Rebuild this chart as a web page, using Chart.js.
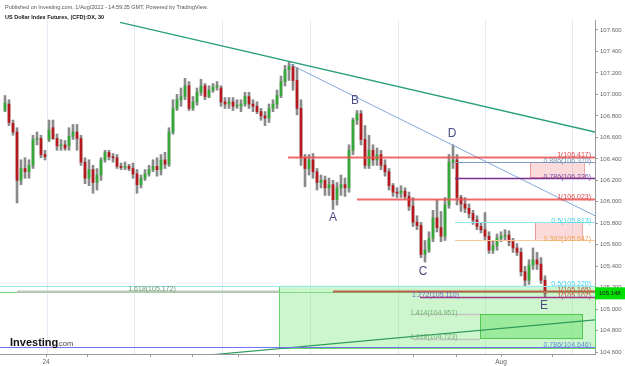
<!DOCTYPE html>
<html>
<head>
<meta charset="utf-8">
<script src="https://cdn.jsdelivr.net/npm/chart.js@4.4.1/dist/chart.umd.min.js"></script>
<style>
  html, body { margin: 0; padding: 0; background: #fff; overflow: hidden; }
  #wrap { position: relative; width: 625px; height: 366px; }
</style>
</head>
<body>
<div id="wrap"><canvas id="dxChart"></canvas></div>
<script>
// 30 min candles, US Dollar Index Futures
const opens = [
  106.85, 106.91, 106.73, 106.65, 106.20, 106.31, 106.28, 106.34, 106.58, 106.59,
  106.44, 106.58, 106.69, 106.59, 106.52, 106.53, 106.52, 106.61, 106.65, 106.59,
  106.37, 106.22, 106.30, 106.18, 106.25, 106.39, 106.46, 106.42, 106.41, 106.33,
  106.32, 106.33, 106.31, 106.26, 106.16, 106.22, 106.26, 106.30, 106.33, 106.30,
  106.39, 106.35, 106.65, 106.87, 106.95, 106.98, 107.08, 106.87, 106.93, 107.02,
  107.08, 106.98, 107.04, 107.07, 107.06, 106.93, 106.91, 106.93, 106.89, 106.89,
  106.91, 106.98, 106.91, 106.89, 106.84, 106.80, 106.78, 106.87, 106.91, 106.99,
  107.12, 107.23, 107.26, 107.13, 106.87, 106.41, 106.31, 106.39, 106.28, 106.18,
  106.20, 106.13, 106.16, 106.02, 106.13, 106.16, 106.13, 106.48, 106.76, 106.82,
  106.58, 106.34, 106.48, 106.39, 106.44, 106.34, 106.28, 106.15, 106.09, 106.08,
  106.10, 106.05, 105.96, 105.81, 105.78, 105.51, 105.55, 105.66, 105.85, 105.76,
  105.68, 105.97, 106.37, 106.39, 106.04, 105.98, 105.94, 105.89, 105.83, 105.77,
  105.74, 105.68, 105.55, 105.59, 105.66, 105.68, 105.69, 105.63, 105.57, 105.53,
  105.35, 105.27, 105.41, 105.46, 105.42, 105.27
];
const highs = [
  106.99, 106.95, 106.76, 106.69, 106.39, 106.41, 106.39, 106.62, 106.65, 106.62,
  106.48, 106.76, 106.76, 106.63, 106.58, 106.57, 106.69, 106.72, 106.72, 106.62,
  106.41, 106.39, 106.34, 106.31, 106.41, 106.48, 106.48, 106.45, 106.44, 106.36,
  106.37, 106.35, 106.36, 106.30, 106.25, 106.30, 106.34, 106.39, 106.41, 106.44,
  106.46, 106.69, 106.95, 107.00, 107.06, 107.15, 107.12, 106.98, 107.06, 107.14,
  107.10, 107.08, 107.10, 107.12, 107.08, 106.97, 106.97, 106.97, 106.95, 106.95,
  107.02, 107.02, 106.95, 106.93, 106.87, 106.84, 106.91, 106.95, 107.04, 107.17,
  107.27, 107.30, 107.28, 107.25, 106.95, 106.44, 106.44, 106.45, 106.31, 106.25,
  106.24, 106.22, 106.20, 106.18, 106.25, 106.22, 106.53, 106.78, 106.85, 106.85,
  106.71, 106.62, 106.53, 106.50, 106.48, 106.39, 106.31, 106.17, 106.13, 106.15,
  106.13, 106.09, 106.04, 105.87, 105.81, 105.64, 105.72, 105.92, 106.02, 105.91,
  106.04, 106.44, 106.53, 106.44, 106.06, 106.04, 105.98, 105.92, 105.87, 105.81,
  105.90, 105.72, 105.64, 105.70, 105.72, 105.74, 105.73, 105.66, 105.61, 105.57,
  105.40, 105.46, 105.57, 105.53, 105.48, 105.31
];
const lows = [
  106.84, 106.71, 106.62, 105.99, 106.16, 106.22, 106.22, 106.31, 106.53, 106.41,
  106.39, 106.56, 106.58, 106.48, 106.48, 106.48, 106.48, 106.58, 106.48, 106.34,
  106.17, 106.15, 106.08, 106.11, 106.20, 106.37, 106.39, 106.37, 106.31, 106.30,
  106.30, 106.29, 106.22, 106.08, 106.13, 106.20, 106.24, 106.28, 106.24, 106.25,
  106.31, 106.33, 106.63, 106.85, 106.89, 106.95, 106.85, 106.85, 106.90, 106.99,
  106.95, 106.97, 107.02, 107.04, 106.89, 106.87, 106.87, 106.85, 106.87, 106.84,
  106.89, 106.87, 106.84, 106.82, 106.76, 106.71, 106.74, 106.84, 106.87, 106.97,
  107.08, 107.13, 107.04, 106.81, 106.34, 106.14, 106.25, 106.22, 106.11, 106.13,
  106.06, 106.06, 105.93, 105.97, 106.06, 106.05, 106.09, 106.44, 106.72, 106.53,
  106.31, 106.31, 106.34, 106.34, 106.30, 106.24, 106.11, 106.05, 106.04, 106.04,
  106.03, 105.92, 105.77, 105.74, 105.48, 105.44, 105.53, 105.63, 105.72, 105.63,
  105.64, 105.94, 106.31, 105.97, 105.91, 105.90, 105.85, 105.79, 105.74, 105.71,
  105.64, 105.52, 105.52, 105.55, 105.63, 105.64, 105.59, 105.53, 105.50, 105.31,
  105.21, 105.23, 105.37, 105.37, 105.24, 105.11
];
const closes = [
  106.92, 106.74, 106.65, 106.20, 106.31, 106.28, 106.34, 106.58, 106.59, 106.44,
  106.42, 106.67, 106.59, 106.52, 106.53, 106.50, 106.61, 106.65, 106.59, 106.37,
  106.22, 106.30, 106.18, 106.25, 106.39, 106.46, 106.42, 106.41, 106.33, 106.32,
  106.33, 106.31, 106.26, 106.16, 106.22, 106.26, 106.30, 106.33, 106.30, 106.39,
  106.35, 106.65, 106.87, 106.95, 106.98, 107.08, 106.87, 106.93, 107.02, 107.08,
  106.98, 107.04, 107.07, 107.08, 106.93, 106.91, 106.93, 106.89, 106.90, 106.91,
  106.98, 106.91, 106.89, 106.84, 106.80, 106.78, 106.87, 106.91, 106.99, 107.12,
  107.23, 107.26, 107.13, 106.87, 106.41, 106.31, 106.39, 106.28, 106.18, 106.20,
  106.13, 106.16, 106.02, 106.13, 106.16, 106.13, 106.48, 106.76, 106.82, 106.58,
  106.34, 106.48, 106.39, 106.44, 106.34, 106.28, 106.15, 106.09, 106.08, 106.10,
  106.05, 105.96, 105.81, 105.78, 105.51, 105.55, 105.66, 105.85, 105.76, 105.68,
  105.97, 106.37, 106.39, 106.04, 105.98, 105.94, 105.89, 105.83, 105.77, 105.74,
  105.68, 105.55, 105.59, 105.66, 105.68, 105.69, 105.63, 105.57, 105.53, 105.35,
  105.27, 105.41, 105.46, 105.42, 105.27, 105.148
];

// axes
const yTicks = [104.6, 104.8, 105.0, 105.2, 105.4, 105.6, 105.8, 106.0, 106.2, 106.4, 106.6, 106.8, 107.0, 107.2, 107.4, 107.6];
const xTickPos = [10.25, 20.7, 36.4, 46.8, 58.3, 68.6, 102, 112.75, 124, 136.75];
const xTickLabels = ['24', '', '', '', '', '', '', '', 'Aug', ''];
const dayLines = [10.4, 32.25, 54.2, 76.25, 98.2, 120, 141.75];

// drawn tools: trend lines [x0, y0, x1, y1] in candle index / price
const trendTop = [28.75, 107.67, 147.5, 106.65];
const trendMid = [71.25, 107.28, 147.5, 105.87];
const trendLow = [50, 104.57, 147.5, 104.90];

// fibonacci levels
const levelPrices = [106.417, 106.370, 106.226, 106.023, 105.813, 105.647, 105.220, 105.161, 105.172, 105.165, 105.107, 105.110, 104.951, 104.723, 104.646];
const levelLabels = ['1(106.417)', '0.886(106.370)', '0.786(106.226)', '1(106.023)', '0.5(105.813)', '0.382(105.647)', '0.5(105.220)', '', '1.618(105.172)', '1(105.165)', '1(105.107)', '1.272(105.110)', '1.414(104.951)', '1.618(104.723)', '0.786(104.646)'];
const levelFrom = [70.75, 112.5, 112.5, 88, 112.5, 112.5, -1.25, -1.25, 3, 82, 0, 103.75, 102, 102, -1.25];
const levelTo = [147.5, 147.5, 147.5, 147.5, 147.5, 147.5, 147.5, 147.5, 68.5, 147.5, 0, 147.5, 118.75, 118.75, 147.5];

// boxes [x0, x1, priceTop, priceBottom]
const boxes = [
  [68.5, 147.5, 105.220, 104.646],
  [118.75, 144.25, 104.951, 104.723],
  [131.25, 144.75, 106.370, 106.226],
  [132.5, 144.25, 105.813, 105.647]
];

// wave letters
const waveNames = ['A', 'B', 'C', 'D', 'E'];
const waveX = [82, 87.5, 104.5, 111.75, 134.75];
const wavePrice = [105.85, 106.94, 105.35, 106.63, 105.03];

// ---- styles ----
const FONT = '"Liberation Sans", Arial, sans-serif';
const levelColor = ['rgba(236,80,80,0.85)', '#7f9cc0', '#7a2d8f', 'rgba(236,80,80,0.85)', '#8ee6f0', '#f6c898', '#98e8f6', '#7fdc7f', '#c4c4c4', '#b8614c', 'rgba(0,0,0,0)', '#a2378a', '#c4c4c4', '#c4c4c4', '#7272f6'];
const levelWidth = [2, 1, 1.5, 2, 1, 1, 1, 1, 2, 2, 0, 1.5, 1.5, 1.5, 1];
const labelColor = ['#e04848', '#7390b4', '#7448a6', '#e04848', '#3fd2e6', '#f0a04c', '#3fd2ee', '', '#6b9a6b', '#c0573c', '#c85050', '#7e62c2', '#72b472', '#72b472', '#5c8ed6'];
const labelX = [591, 591, 591, 591, 591, 591, 591, 0, 152, 591, 591, 412, 410, 410, 591];
const labelAlign = ['right', 'right', 'right', 'right', 'right', 'right', 'right', 'right', 'center', 'right', 'right', 'left', 'left', 'left', 'right'];
const labelLift = [4, 3, 3, 4, 3, 3, 4, 0, 4, 3, 4, 4, 3, 4, 4];
const boxFill = ['rgba(126,232,126,0.38)', 'rgba(96,222,96,0.45)', 'rgba(240,150,150,0.35)', 'rgba(240,150,150,0.35)'];
const boxLine = ['#66d466', '#50c850', 'rgba(232,110,110,0.6)', 'rgba(232,110,110,0.6)'];

const bodyColors = opens.map((o, i) => closes[i] >= o ? '#36a83a' : '#b5191d');

const overlay = {
  id: 'overlay',
  beforeDatasetsDraw(chart) {
    const { ctx, chartArea: a, scales: { x, y } } = chart;
    ctx.save();
    ctx.strokeStyle = '#e2ebf4';
    ctx.lineWidth = 1;
    dayLines.forEach(v => {
      const px = Math.round(x.getPixelForValue(v)) + 0.5;
      ctx.beginPath(); ctx.moveTo(px, a.top); ctx.lineTo(px, a.bottom); ctx.stroke();
    });
    boxes.forEach((b, k) => {
      const x0 = x.getPixelForValue(b[0]), x1 = x.getPixelForValue(b[1]);
      const y0 = y.getPixelForValue(b[2]), y1 = y.getPixelForValue(b[3]);
      ctx.fillStyle = boxFill[k];
      ctx.fillRect(x0, y0, x1 - x0, y1 - y0);
      ctx.strokeStyle = boxLine[k];
      ctx.strokeRect(Math.round(x0) + 0.5, Math.round(y0) + 0.5, Math.round(x1 - x0), Math.round(y1 - y0));
    });
    ctx.restore();
  },
  afterDatasetsDraw(chart) {
    const { ctx, scales: { x, y } } = chart;
    ctx.save();
    levelPrices.forEach((p, k) => {
      const py = Math.round(y.getPixelForValue(p)) + 0.5;
      if (levelWidth[k] > 0) {
        ctx.strokeStyle = levelColor[k];
        ctx.lineWidth = levelWidth[k];
        ctx.beginPath();
        ctx.moveTo(x.getPixelForValue(levelFrom[k]), py);
        ctx.lineTo(x.getPixelForValue(levelTo[k]), py);
        ctx.stroke();
      }
      if (levelLabels[k]) {
        ctx.font = '7px ' + FONT;
        ctx.fillStyle = labelColor[k];
        ctx.textAlign = labelAlign[k];
        ctx.textBaseline = 'alphabetic';
        ctx.fillText(levelLabels[k], labelX[k], py - labelLift[k] + 3);
      }
    });
    ctx.font = '12px ' + FONT;
    ctx.fillStyle = '#4e4e82';
    ctx.textAlign = 'center';
    ctx.textBaseline = 'middle';
    waveNames.forEach((n, k) => {
      ctx.fillText(n, x.getPixelForValue(waveX[k]), y.getPixelForValue(wavePrice[k]));
    });
    ctx.restore();
  },
  afterDraw(chart) {
    const { ctx, scales: { y } } = chart;
    ctx.save();
    ctx.textBaseline = 'alphabetic';
    ctx.textAlign = 'left';
    ctx.fillStyle = '#555';
    ctx.font = '5.5px ' + FONT;
    ctx.fillText('Published on Investing.com, 1/Aug/2022 - 14:59:35 GMT, Powered by TradingView.', 5, 8.5);
    ctx.fillStyle = '#111';
    ctx.font = 'bold 5.5px ' + FONT;
    ctx.fillText('US Dollar Index Futures, (CFD):DX, 30', 5, 19);
    // logo
    ctx.font = 'bold 11px ' + FONT;
    ctx.fillStyle = '#111';
    ctx.fillText('Investing', 10, 346);
    ctx.font = '7.5px ' + FONT;
    ctx.fillStyle = '#444';
    ctx.fillText('.com', 57, 346);
    // last price tag
    const last = closes[closes.length - 1];
    const py = y.getPixelForValue(last);
    ctx.fillStyle = '#00dd00';
    ctx.fillRect(595, py - 6, 30, 12);
    ctx.fillStyle = '#1a1a1a';
    ctx.font = '6px ' + FONT;
    ctx.textBaseline = 'middle';
    ctx.fillText(last.toFixed(3), 599, py);
    ctx.restore();
  }
};

const candleBodies = opens.map((o, i) => ({ x: i, y: [o, closes[i]] }));
const candleRanges = opens.map((o, i) => ({ x: i, y: [lows[i], highs[i]] }));
const seg = t => [{ x: t[0], y: t[1] }, { x: t[2], y: t[3] }];

new Chart(document.getElementById('dxChart'), {
  type: 'bar',
  data: {
    datasets: [
      { type: 'line', data: seg(trendTop), borderColor: '#2a9f80', borderWidth: 1.3, pointRadius: 0, order: 0 },
      { type: 'line', data: seg(trendMid), borderColor: '#84a8d8', borderWidth: 1, pointRadius: 0, order: 0 },
      { type: 'line', data: seg(trendLow), borderColor: '#2f9a5c', borderWidth: 1.2, pointRadius: 0, order: 0 },
      { data: candleBodies, backgroundColor: bodyColors, barThickness: 2, minBarLength: 1, grouped: false, order: 1 },
      { data: candleRanges, backgroundColor: '#7c7c7c', barThickness: 1, grouped: false, order: 2 },
      { data: candleRanges, backgroundColor: 'rgba(175,175,175,0.55)', barThickness: 3, grouped: false, order: 3 }
    ]
  },
  options: {
    responsive: true,
    maintainAspectRatio: false,
    animation: false,
    devicePixelRatio: 1,
    layout: { padding: { top: 20, left: 0, right: 0, bottom: 0 } },
    plugins: { legend: { display: false }, tooltip: { enabled: false } },
    scales: {
      x: {
        type: 'linear',
        min: -1.25,
        max: 147.5,
        offset: false,
        afterBuildTicks: s => { s.ticks = xTickPos.map(v => ({ value: v })); },
        afterFit: s => { s.height = 12; },
        ticks: {
          autoSkip: false, maxRotation: 0, padding: 1, color: '#666',
          font: { size: 6.5, family: FONT },
          callback: (v, i) => xTickLabels[i]
        },
        grid: { drawOnChartArea: false, tickLength: 3, color: '#999', offset: false },
        border: { color: '#999' }
      },
      y: {
        type: 'linear',
        position: 'right',
        min: 104.583,
        max: 107.693,
        afterBuildTicks: s => { s.ticks = yTicks.map(v => ({ value: v })); },
        afterFit: s => { s.width = 30; },
        ticks: {
          padding: 2, color: '#666',
          font: { size: 6, family: FONT },
          callback: v => v.toFixed(3)
        },
        grid: { drawOnChartArea: false, tickLength: 3, color: '#999' },
        border: { color: '#999' }
      }
    }
  },
  plugins: [overlay]
});
</script>
</body>
</html>
